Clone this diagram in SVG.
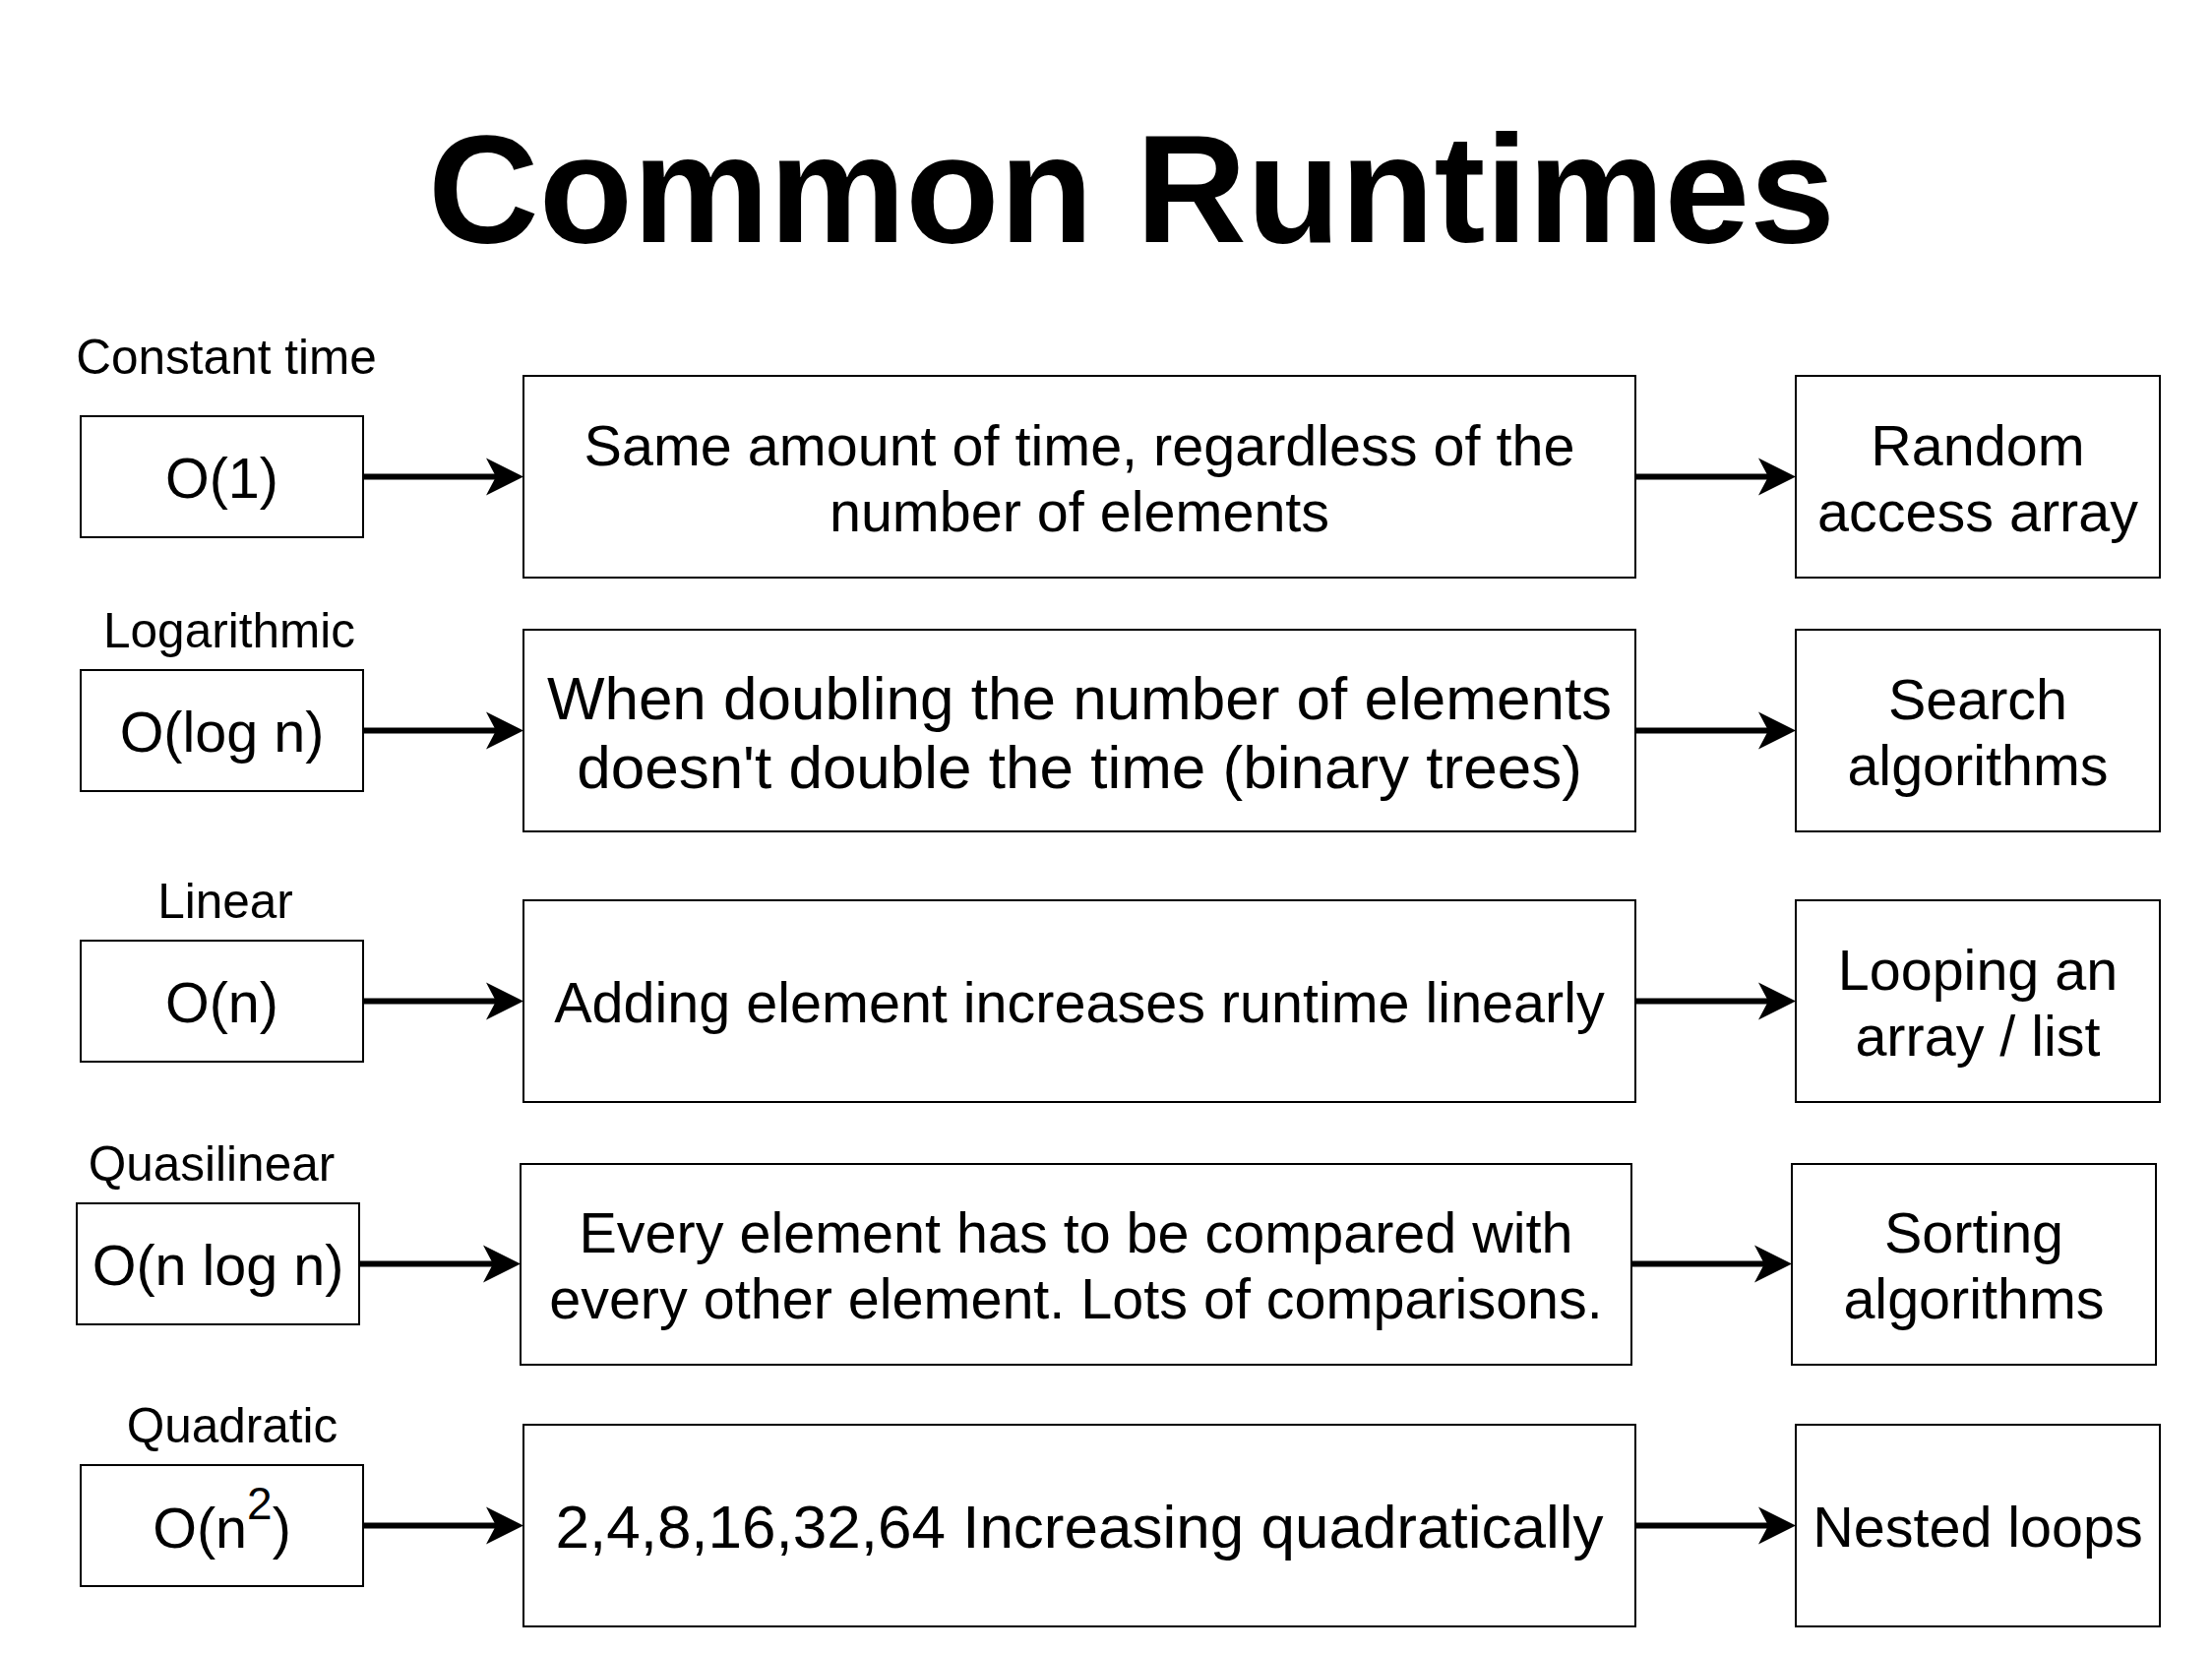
<svg xmlns="http://www.w3.org/2000/svg" width="2248" height="1680" viewBox="0 0 2248 1680">
  <style>
    text { font-family: "Liberation Sans", Arial, Helvetica, sans-serif; fill: #000; }
    .title { font-size: 156px; font-weight: bold; text-anchor: middle; }
    .lbl { font-size: 49.5px; text-anchor: middle; }
    .t { font-size: 57.5px; text-anchor: middle; }
    .big { font-size: 62px; }
    .box { fill: #fff; stroke: #000; stroke-width: 2; }
    .edge { fill: none; stroke: #000; stroke-width: 6; }
  </style>
  <defs>
    <marker id="arrow" markerUnits="userSpaceOnUse" markerWidth="80" markerHeight="80" viewBox="-20 -40 80 80" refX="0" refY="0" orient="auto" overflow="visible">
      <path d="M28,0 L-10,-19 L0,0 L-10,19 Z" fill="#000"/>
    </marker>
  </defs>
  <rect width="2248" height="1680" fill="#fff"/>

  <text class="title" x="1150" y="246">Common Runtimes</text>

  <g id="connectors">
    <line class="edge" x1="369" y1="484.5" x2="504" y2="484.5" marker-end="url(#arrow)"/>
    <line class="edge" x1="1662" y1="484.5" x2="1797" y2="484.5" marker-end="url(#arrow)"/>
    <line class="edge" x1="369" y1="742.5" x2="504" y2="742.5" marker-end="url(#arrow)"/>
    <line class="edge" x1="1662" y1="742.5" x2="1797" y2="742.5" marker-end="url(#arrow)"/>
    <line class="edge" x1="369" y1="1017.5" x2="504" y2="1017.5" marker-end="url(#arrow)"/>
    <line class="edge" x1="1662" y1="1017.5" x2="1797" y2="1017.5" marker-end="url(#arrow)"/>
    <line class="edge" x1="365" y1="1284.5" x2="501" y2="1284.5" marker-end="url(#arrow)"/>
    <line class="edge" x1="1658" y1="1284.5" x2="1793" y2="1284.5" marker-end="url(#arrow)"/>
    <line class="edge" x1="369" y1="1550.5" x2="504" y2="1550.5" marker-end="url(#arrow)"/>
    <line class="edge" x1="1662" y1="1550.5" x2="1797" y2="1550.5" marker-end="url(#arrow)"/>
  </g>

  <!-- Row 1 -->
  <g id="label-constant"><text class="lbl" x="230" y="380">Constant time</text></g>
  <g id="o1">
    <rect class="box" x="82" y="423" width="287" height="123"/>
    <text class="t" x="225.5" y="506">O(1)</text>
  </g>
  <g id="desc-constant">
    <rect class="box" x="532" y="382" width="1130" height="205"/>
    <text class="t" x="1097" y="473">Same amount of time, regardless of the</text>
    <text class="t" x="1097" y="540">number of elements</text>
  </g>
  <g id="ex-constant">
    <rect class="box" x="1825" y="382" width="370" height="205"/>
    <text class="t" x="2010" y="473">Random</text>
    <text class="t" x="2010" y="540">access array</text>
  </g>

  <!-- Row 2 -->
  <g id="label-log"><text class="lbl" x="233" y="658">Logarithmic</text></g>
  <g id="ologn">
    <rect class="box" x="82" y="681" width="287" height="123"/>
    <text class="t" x="225.5" y="764">O(log n)</text>
  </g>
  <g id="desc-log">
    <rect class="box" x="532" y="640" width="1130" height="205"/>
    <text class="t big" x="1097" y="731">When doubling the number of elements</text>
    <text class="t big" x="1097" y="801">doesn't double the time (binary trees)</text>
  </g>
  <g id="ex-log">
    <rect class="box" x="1825" y="640" width="370" height="205"/>
    <text class="t" x="2010" y="731">Search</text>
    <text class="t" x="2010" y="798">algorithms</text>
  </g>

  <!-- Row 3 -->
  <g id="label-linear"><text class="lbl" x="229" y="933">Linear</text></g>
  <g id="on">
    <rect class="box" x="82" y="956" width="287" height="123"/>
    <text class="t" x="225.5" y="1039">O(n)</text>
  </g>
  <g id="desc-linear">
    <rect class="box" x="532" y="915" width="1130" height="205"/>
    <text class="t" x="1097" y="1039">Adding element increases runtime linearly</text>
  </g>
  <g id="ex-linear">
    <rect class="box" x="1825" y="915" width="370" height="205"/>
    <text class="t" x="2010" y="1006">Looping an</text>
    <text class="t" x="2010" y="1073">array / list</text>
  </g>

  <!-- Row 4 -->
  <g id="label-quasi"><text class="lbl" x="215" y="1200">Quasilinear</text></g>
  <g id="onlogn">
    <rect class="box" x="78" y="1223" width="287" height="123"/>
    <text class="t" x="221.5" y="1306">O(n log n)</text>
  </g>
  <g id="desc-quasi">
    <rect class="box" x="529" y="1183" width="1129" height="204"/>
    <text class="t" x="1093.5" y="1273">Every element has to be compared with</text>
    <text class="t" x="1093.5" y="1340">every other element. Lots of comparisons.</text>
  </g>
  <g id="ex-quasi">
    <rect class="box" x="1821" y="1183" width="370" height="204"/>
    <text class="t" x="2006" y="1273">Sorting</text>
    <text class="t" x="2006" y="1340">algorithms</text>
  </g>

  <!-- Row 5 -->
  <g id="label-quad"><text class="lbl" x="236" y="1466">Quadratic</text></g>
  <g id="on2">
    <rect class="box" x="82" y="1489" width="287" height="123"/>
    <text class="t" x="225.5" y="1573">O(n<tspan font-size="46" dy="-29">2</tspan><tspan dy="29">)</tspan></text>
  </g>
  <g id="desc-quad">
    <rect class="box" x="532" y="1448" width="1130" height="205"/>
    <text class="t big" x="1097" y="1573">2,4,8,16,32,64 Increasing quadratically</text>
  </g>
  <g id="ex-quad">
    <rect class="box" x="1825" y="1448" width="370" height="205"/>
    <text class="t" x="2010" y="1572">Nested loops</text>
  </g>
</svg>
